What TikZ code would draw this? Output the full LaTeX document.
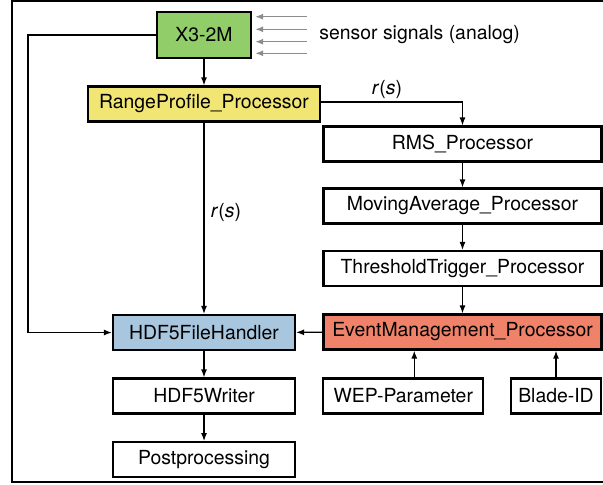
\documentclass[tikz,border=0pt]{standalone}
\usepackage{fontspec}
\setmainfont{TeX Gyre Heros}
\usetikzlibrary{arrows.meta}

\definecolor{devgreen}{RGB}{145,205,105}
\definecolor{procyellow}{RGB}{241,229,115}
\definecolor{fileblue}{RGB}{168,198,222}
\definecolor{eventred}{RGB}{240,130,106}

\def\u{0.5pt} % one pixel of the layout

\tikzset{
  block/.style={draw, line width=1.1pt, minimum height=35*\u, inner sep=0pt},
  conn/.style={-{Latex[length=4pt,width=3pt]}, line width=0.65pt},
  sig/.style={-{Latex[length=4pt,width=3pt]}, line width=0.7pt, black!45, shorten >=1.5pt},
}

\begin{document}
\begin{tikzpicture}[x=\u, y=-\u, font=\fontsize{9.7}{11.6}\selectfont]

\def \rx {462.5} % right column
\def \lx {204}   % left column

\useasboundingbox (0,0) rectangle (603,484);
\draw[line width=1pt] (640,1) -- (12,1) -- (12,481.5) -- (640,481.5);

% left column
\node[block, fill=devgreen, minimum width=94*\u, minimum height=46*\u] (x3) at (\lx,35) {X3-2M};
\node[block, fill=procyellow, minimum width=232*\u] (rp) at (\lx,104) {RangeProfile\_Processor};
\node[block, fill=fileblue, minimum width=182*\u] (hdf) at (\lx,332.5) {HDF5FileHandler};
\node[block, minimum width=182*\u] (wr) at (\lx,396) {HDF5Writer};
\node[block, minimum width=182*\u] (pp) at (\lx,459.7) {Postprocessing};

% right column
\node[block, minimum width=278*\u] (rms) at (\rx,144) {RMS\_Processor};
\node[block, minimum width=278*\u] (ma) at (\rx,206) {MovingAverage\_Processor};
\node[block, minimum width=278*\u] (tt) at (\rx,268.5) {ThresholdTrigger\_Processor};
\node[block, fill=eventred, minimum width=278*\u] (em) at (\rx,332) {EventManagement\_Processor};
\node[block, minimum width=160*\u] (wep) at (403.3,396) {WEP-Parameter};
\node[block, minimum width=90*\u] (blade) at (556,396) {Blade-ID};

% sensor inputs
\node[anchor=west, inner sep=0pt] (sensors) at (319,35) {sensor signals (analog)};
\foreach \y in {16.7,29.3,41.7,53.3}
  \draw[sig] (307,\y) -- (x3.east |- 0,\y);

% connections
\draw[conn] (x3) -- (rp);
\draw[conn] (x3.west) -- ++(-128,0) |- (hdf.west);
\draw[conn] ([yshift=1pt]rp.east) -| (rms.north);
\node (rs1) at (387,89) {\textit{r}(\textit{s})};
\draw[conn] (rp) -- (hdf);
\node (rs2) at (226,212) {\textit{r}(\textit{s})};

\foreach \a/\b in {rms/ma, ma/tt, tt/em, hdf/wr, wr/pp}
  \draw[conn] (\a) -- (\b);
\draw[conn] (em) -- (hdf);
\draw[conn] ([xshift=5.5pt]wep.north) -- ([xshift=5.5pt]wep.north |- em.south);
\draw[conn] (blade) -- (blade |- em.south);

\end{tikzpicture}
\end{document}
